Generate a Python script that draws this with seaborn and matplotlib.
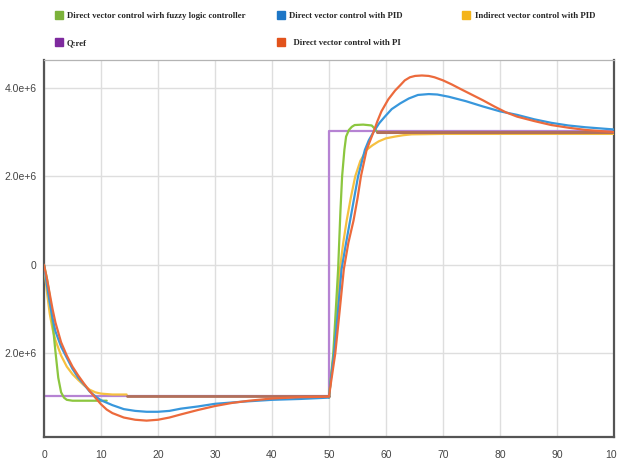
import matplotlib
matplotlib.use("Agg")
import matplotlib.pyplot as plt
from matplotlib.lines import Line2D
import seaborn as sns
import pandas as pd

# ---- data -------------------------------------------------------------
# Q reference (step from -3e6 to +3e6 at t = 50)
qref_t = [0, 50, 50, 100]
qref_v = [-2.97e6, -2.97e6, 3.02e6, 3.02e6]

# settled reference trace drawn over the setpoint
trace_low_t = [14.5, 50]
trace_low_v = [-2.97e6, -2.97e6]
trace_high_t = [58.5, 100]
trace_high_v = [3.0e6, 3.0e6]

# Direct vector control with fuzzy logic controller
fuzzy_t_a = [0, 0.5, 1, 1.5, 2, 2.5, 3, 3.5, 4, 5, 11]
fuzzy_v_a = [0, -0.3e6, -0.7e6, -1.3e6, -1.95e6, -2.55e6, -2.88e6, -3.0e6, -3.05e6, -3.07e6, -3.07e6]
fuzzy_t_b = [50, 50.3, 50.75, 51.2, 51.6, 52, 52.3, 52.7, 53, 53.5, 54, 54.5, 56, 57.5, 58, 58.5, 60.5]
fuzzy_v_b = [-3.0e6, -2.6e6, -2.0e6, -1.0e6, -0.1e6, 1.2e6, 2.0e6, 2.6e6, 2.9e6, 3.05e6, 3.12e6,
             3.16e6, 3.17e6, 3.15e6, 3.08e6, 3.0e6, 2.99e6]

# Indirect vector control with PID
ind_t_a = [0, 0.5, 1, 1.5, 2, 3, 4, 5, 6, 7, 8, 9, 10, 12, 14.5]
ind_v_a = [0, -0.6e6, -1.1e6, -1.45e6, -1.7e6, -2.05e6, -2.3e6, -2.47e6, -2.6e6, -2.72e6, -2.82e6,
           -2.88e6, -2.91e6, -2.93e6, -2.93e6]
ind_t_b = [50, 50.3, 50.85, 51.4, 51.9, 52.5, 53.1, 53.8, 54.6, 55.5, 56.6, 57.6, 58.7, 60, 61.6,
           63, 64.5, 70, 100]
ind_v_b = [-3.0e6, -2.6e6, -2.0e6, -1.0e6, -0.1e6, 0.5e6, 1.0e6, 1.5e6, 2.0e6, 2.35e6, 2.6e6, 2.7e6,
           2.79e6, 2.86e6, 2.9e6, 2.93e6, 2.95e6, 2.96e6, 2.96e6]

# Direct vector control with PID
pid_t = [0, 0.5, 1, 1.5, 2, 3, 4, 5, 6, 7, 8, 9, 10, 12, 14, 16, 18, 20, 22, 24, 27, 30, 35, 40, 45,
         50, 50.3, 50.9, 51.6, 52.2, 53, 53.7, 54.4, 55.1, 56.3, 57, 57.8, 58.8, 59.8, 61, 62.5, 64,
         65.6, 67.5, 69, 71, 74, 77, 80, 83, 86, 89, 92, 95, 98, 100]
pid_v = [0, -0.45e6, -0.85e6, -1.2e6, -1.5e6, -1.85e6, -2.1e6, -2.35e6, -2.55e6, -2.7e6, -2.86e6,
         -2.97e6, -3.06e6, -3.17e6, -3.26e6, -3.3e6, -3.32e6, -3.32e6, -3.3e6, -3.25e6, -3.2e6,
         -3.14e6, -3.09e6, -3.05e6, -3.03e6,
         -3.0e6, -2.6e6, -2.0e6, -1.0e6, -0.1e6, 0.5e6, 1.0e6, 1.5e6, 2.0e6, 2.6e6, 2.82e6, 3.0e6,
         3.2e6, 3.35e6, 3.52e6, 3.65e6, 3.76e6, 3.84e6, 3.86e6, 3.85e6, 3.8e6, 3.7e6, 3.58e6, 3.47e6,
         3.39e6, 3.29e6, 3.21e6, 3.15e6, 3.11e6, 3.08e6, 3.06e6]

# Direct vector control with PI
pi_t = [0, 0.5, 1, 1.5, 2, 3, 4, 5, 6, 7, 8, 9, 10, 11, 12, 14, 16, 18, 20, 22, 24, 27, 30, 33, 36,
        40, 45, 50, 50.3, 51.1, 51.9, 52.6, 53.4, 54.3, 55, 55.6, 56.6, 57.2, 57.8, 58.5, 59.2, 60.4,
        61.6, 62.5, 63.3, 64.2, 65.1, 66.3, 67.5, 68.5, 70, 71.5, 73, 75, 77, 79, 81, 83, 86, 89, 92,
        95, 98, 100]
pi_v = [0, -0.3e6, -0.65e6, -1.0e6, -1.3e6, -1.75e6, -2.05e6, -2.3e6, -2.5e6, -2.68e6, -2.85e6,
        -3.0e6, -3.15e6, -3.27e6, -3.35e6, -3.45e6, -3.5e6, -3.52e6, -3.5e6, -3.45e6, -3.38e6,
        -3.28e6, -3.19e6, -3.12e6, -3.07e6, -3.02e6, -2.99e6, -2.98e6,
        -2.7e6, -2.0e6, -1.0e6, -0.1e6, 0.5e6, 1.0e6, 1.5e6, 2.0e6, 2.6e6, 2.8e6, 3.0e6, 3.25e6,
        3.47e6, 3.74e6, 3.94e6, 4.06e6, 4.17e6, 4.24e6, 4.27e6, 4.28e6, 4.27e6, 4.24e6, 4.17e6,
        4.08e6, 3.98e6, 3.85e6, 3.72e6, 3.58e6, 3.45e6, 3.35e6, 3.25e6, 3.16e6, 3.1e6, 3.05e6,
        3.02e6, 3.0e6]

x_ticks = [0, 10, 20, 30, 40, 50, 60, 70, 80, 90, 100]
y_ticks = [4.0e6, 2.0e6, 0, -2.0e6]
y_tick_labels = ["4.0e+6", "2.0e+6", "0", "2.0e+6"]

labels = {
    "fuzzy": "Direct vector control wirh fuzzy logic controller",
    "pid": "Direct vector control with PID",
    "ind": "Indirect vector control with PID",
    "qref": "Q:ref",
    "pi": "  Direct vector control with PI",
}

# ---- style ------------------------------------------------------------
sns.set_theme(style="white")
plt.rcParams["font.family"] = ["Liberation Sans", "DejaVu Sans"]

line_col = {"qref": "#b683d3", "trace": "#b2705a", "fuzzy": "#8cc63f", "ind": "#f6c040",
            "pid": "#3897dc", "pi": "#ec6a3c"}
key_col = {"qref": "#7e2a9e", "fuzzy": "#7cb23b", "ind": "#f4b41a", "pid": "#1d76c6", "pi": "#e2531c"}

W, H = 617, 466
fig = plt.figure(figsize=(W / 100, H / 100), dpi=100)
fig.patch.set_facecolor("white")
ax = fig.add_axes([44 / W, 1 - 437 / H, (614 - 44) / W, (437 - 60) / H])


def draw(t, v, key, z, lw=1.6):
    df = pd.DataFrame({"t": t, "v": v})
    sns.lineplot(data=df, x="t", y="v", ax=ax, color=line_col[key], linewidth=lw,
                 sort=False, estimator=None, zorder=z, legend=False)


draw(qref_t, qref_v, "qref", 2)
draw(ind_t_a, ind_v_a, "ind", 3)
draw(ind_t_b, ind_v_b, "ind", 3)
draw(fuzzy_t_a, fuzzy_v_a, "fuzzy", 4)
draw(fuzzy_t_b, fuzzy_v_b, "fuzzy", 4)
draw(trace_low_t, trace_low_v, "trace", 5, lw=2.0)
draw(trace_high_t, trace_high_v, "trace", 5, lw=2.2)
draw(pid_t, pid_v, "pid", 6)
draw(pi_t, pi_v, "pi", 7)

ax.set_xlim(0, 100)
ax.set_ylim(-3.89e6, 4.63e6)
ax.set_xticks(x_ticks)
ax.set_xticklabels([str(v) for v in x_ticks])
ax.set_yticks(y_ticks)
ax.set_yticklabels(y_tick_labels)
ax.set_xlabel("")
ax.set_ylabel("")

ax.grid(True, color="#dedede", linewidth=1.0)
ax.set_axisbelow(True)
for side in ["left", "bottom", "right"]:
    ax.spines[side].set_color("#555555")
    ax.spines[side].set_linewidth(1.6)
ax.spines["top"].set_color("#b4b4b4")
ax.spines["top"].set_linewidth(0.9)

ax.tick_params(axis="both", colors="#555555", labelcolor="#444444", labelsize=7.5,
               length=3.5, width=1.0, direction="out")
ax.tick_params(axis="x", pad=6)
ax.tick_params(axis="y", pad=2)

# ---- legend -----------------------------------------------------------
legend_font = {"family": "Liberation Serif", "weight": "bold", "size": 6.3}


def key_handle(key):
    return Line2D([], [], marker="s", linestyle="none", markersize=5.4,
                  markerfacecolor=key_col[key], markeredgecolor=key_col[key])


groups = [
    (["fuzzy", "qref"], 55),
    (["pid", "pi"], 277),
    (["ind"], 463),
]
for keys, px in groups:
    fig.legend([key_handle(k) for k in keys], [labels[k] for k in keys],
               loc="upper left", bbox_to_anchor=(px / W, 1 - 12 / H),
               frameon=False, borderpad=0, borderaxespad=0, handlelength=0.8,
               handletextpad=0.55, labelspacing=2.15, prop=legend_font)

fig.savefig("out.png", dpi=100, facecolor="white")
